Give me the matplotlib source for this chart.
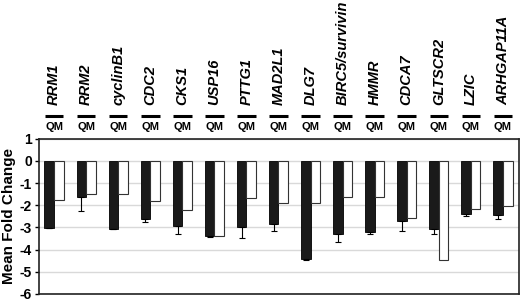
import matplotlib
matplotlib.use("Agg")
from matplotlib import pyplot as plt
import numpy as np

plt.rcParams['font.family'] = ['Liberation Sans', 'DejaVu Sans']

genes = ["RRM1", "RRM2", "cyclinB1", "CDC2", "CKS1", "USP16", "PTTG1", "MAD2L1",
         "DLG7", "BIRC5/survivin", "HMMR", "CDCA7", "GLTSCR2", "LZIC", "ARHGAP11A"]
q_mean = [-3.01, -1.63, -3.05, -2.62, -2.94, -3.40, -2.99, -2.84,
          -4.43, -3.31, -3.21, -2.69, -3.06, -2.38, -2.43]
q_err = [0.03, 0.65, 0.03, 0.14, 0.34, 0.03, 0.48, 0.32,
         0.06, 0.35, 0.10, 0.49, 0.22, 0.11, 0.20]
m_mean = [-1.76, -1.51, -1.47, -1.79, -2.21, -3.40, -1.65, -1.91,
          -1.91, -1.62, -1.62, -2.56, -4.45, -2.18, -2.04]

fig = plt.figure(figsize=(5.2, 3.03), dpi=100)
ax = fig.add_axes([0.075, 0.03, 0.923, 0.512])

x = np.arange(len(genes))
w = 0.3
ax.bar(x - w / 2, q_mean, w, color="#1a1a1a", edgecolor="black", linewidth=0.6, zorder=3)
ax.errorbar(x - w / 2, q_mean, yerr=[q_err, [0] * len(q_err)], fmt="none",
            ecolor="black", elinewidth=0.8, capsize=2, capthick=0.8, zorder=4)
ax.bar(x + w / 2, m_mean, w, color="white", edgecolor="#333333", linewidth=0.8, zorder=3)

ax.set_xlim(-0.47, 14.5)
ax.set_ylim(-6, 1)
ax.set_yticks(range(-6, 2))
ax.set_yticklabels([str(v) for v in range(-6, 2)], fontsize=10, fontweight="bold")
ax.set_xticks([])
ax.yaxis.grid(True, color="#d9d9d9", linewidth=1, zorder=0)
ax.tick_params(axis="y", length=3, width=1, pad=2)
for s in ax.spines.values():
    s.set_linewidth(1.2)
    s.set_color("#222222")

ax.set_ylabel("Mean Fold Change", fontsize=11, fontweight="bold", labelpad=3)

tr = ax.get_xaxis_transform()
for i, g in enumerate(genes):
    ax.plot([i - 0.29, i + 0.29], [1.15, 1.15], color="black", lw=2.2,
            transform=tr, clip_on=False, solid_capstyle="butt")
    ax.text(i, 1.077, "QM", transform=tr, ha="center", va="center",
            fontsize=8, fontweight="bold")
    ax.text(i, 1.215, g, transform=tr, ha="center", va="bottom", rotation=90,
            fontsize=10.5, style="italic", fontweight="bold")

fig.savefig("out.png", dpi=100)
